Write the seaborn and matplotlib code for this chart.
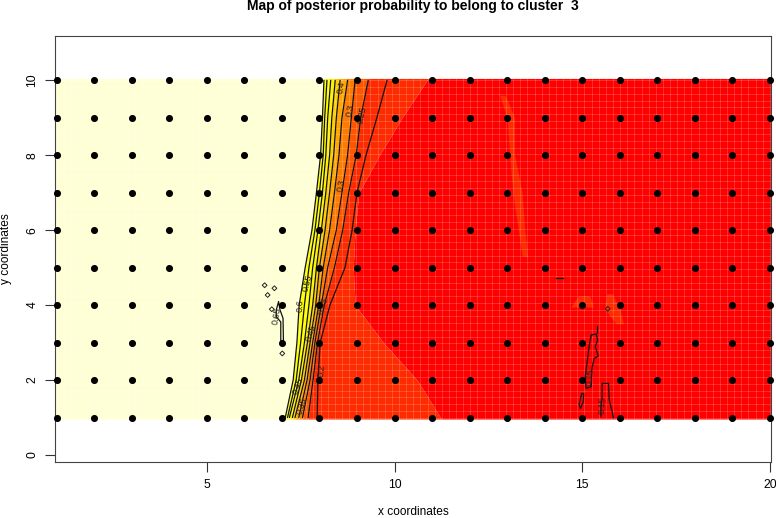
import matplotlib
matplotlib.use('Agg')
import matplotlib.pyplot as plt
import numpy as np
import pandas as pd
import seaborn as sns

sns.set_style('white')
plt.rcParams['font.family'] = ['Liberation Sans', 'DejaVu Sans']

x_sites = list(range(1, 21))
y_sites = list(range(1, 11))

# contour crossings, one x per y row (y = 1 ... 10)
levels = [0.6, 0.55, 0.5, 0.45, 0.4, 0.35, 0.3, 0.25, 0.2]
crossings = [
    [7.09, 7.30, 7.40, 7.46, 7.62, 7.80, 7.92, 8.03, 8.08, 8.12],
    [7.15, 7.38, 7.50, 7.60, 7.72, 7.88, 8.00, 8.10, 8.14, 8.20],
    [7.20, 7.45, 7.60, 7.72, 7.82, 7.96, 8.08, 8.17, 8.22, 8.30],
    [7.28, 7.52, 7.68, 7.82, 7.92, 8.05, 8.17, 8.27, 8.33, 8.42],
    [7.35, 7.60, 7.75, 7.90, 8.00, 8.15, 8.27, 8.38, 8.45, 8.55],
    [7.45, 7.67, 7.82, 7.98, 8.10, 8.27, 8.40, 8.52, 8.60, 8.75],
    [7.55, 7.75, 7.88, 8.05, 8.22, 8.45, 8.60, 8.75, 8.85, 8.95],
    [7.70, 7.83, 7.95, 8.13, 8.40, 8.62, 8.78, 8.98, 9.10, 9.30],
    [7.94, 7.96, 8.02, 8.28, 8.68, 8.87, 9.00, 9.24, 9.53, 9.80],
]
red_edge = [11.25, 10.60, 9.70, 8.95, 8.90, 8.95, 9.05, 9.60, 10.20, 10.90]

band_colors = ['#FFFF00', '#FFFF00', '#FFF000', '#FFCC00', '#FFA500', '#FF7A00', '#FF5500']
pale = '#FFFFD5'
red = '#FF0000'
mid_red = '#FF2B00'

# paler stripe and patches inside the red area
stripe_y = [9.6, 9.0, 8.0, 7.0, 6.0, 5.3]
stripe_left = [12.80, 13.00, 13.07, 13.15, 13.30, 13.40]
stripe_right = [12.95, 13.20, 13.20, 13.40, 13.47, 13.55]
patch_a_y = [3.95, 4.25]
patch_a_left = [14.7, 14.9]
patch_a_right = [15.3, 15.2]
patch_b_y = [3.5, 3.9, 4.3]
patch_b_left = [15.9, 15.6, 15.65]
patch_b_right = [16.1, 16.0, 15.8]

# small closed contours
contour_065_x = [6.91, 6.95, 7.03, 7.04, 6.97, 6.97, 6.85, 6.85, 6.91]
contour_065_y = [4.09, 3.87, 3.65, 3.07, 3.02, 3.55, 3.69, 3.87, 4.09]
contour_015a_x = [15.24, 15.37, 15.41, 15.35, 15.43, 15.32, 15.26, 15.24, 15.10, 15.08, 15.15, 15.19, 15.24]
contour_015a_y = [3.20, 3.23, 3.07, 2.89, 2.64, 2.58, 2.31, 1.82, 1.78, 2.09, 2.62, 2.93, 3.20]
contour_015b_x = [15.50, 15.50, 15.53, 15.53, 15.70, 15.72, 15.81, 15.83]
contour_015b_y = [1.02, 1.29, 1.55, 1.91, 1.91, 1.47, 1.11, 0.99]
contour_015c_x = [14.99, 15.04, 15.03, 14.95, 14.92, 14.99]
contour_015c_y = [1.64, 1.64, 1.42, 1.24, 1.36, 1.64]
contour_015d_x = [15.39, 15.39]
contour_015d_y = [3.26, 3.45]
contour_015e_x = [14.30, 14.50]
contour_015e_y = [4.73, 4.73]
blob_x = [6.54, 6.80, 6.62, 6.73, 7.01, 15.68]
blob_y = [4.53, 4.45, 4.27, 3.89, 2.71, 3.90]

label_text = ['0.4', '0.3', '0.25', '0.3', '0.55', '0.6', '0.65', '0.45', '0.35', '0.2', '0.45', '0.35', '0.15', '0.15']
label_x = [8.58, 8.82, 9.14, 8.58, 7.69, 7.48, 6.85, 7.77, 8.10, 8.07, 7.42, 7.54, 15.21, 15.53]
label_y = [9.80, 9.20, 9.07, 7.20, 4.60, 4.00, 3.72, 3.25, 3.97, 2.25, 1.85, 1.31, 2.07, 1.33]
label_rot = [80, 80, 78, 80, 75, 88, 80, 72, 72, 85, 72, 72, 85, 88]

fig = plt.figure(figsize=(7.76, 5.18), dpi=100)
ax = fig.add_axes([55 / 776, 1 - 462.3 / 518, 716 / 776, 426.6 / 518])

# filled probability bands
rows_fill = np.array(y_sites, dtype=float)
rows_fill[0] = 0.96
rows_fill[-1] = 10.05
ax.fill_betweenx(rows_fill, x_sites[0] - 0.05, crossings[0], color=pale, lw=0)
for k, col in enumerate(band_colors):
    ax.fill_betweenx(rows_fill, crossings[k], crossings[k + 1], color=col, lw=0)
ax.fill_betweenx(rows_fill, crossings[7], red_edge, color=mid_red, lw=0)
ax.fill_betweenx(rows_fill, red_edge, x_sites[-1] + 0.03, color=red, lw=0)
for yy, l, r in [(stripe_y, stripe_left, stripe_right),
                 (patch_a_y, patch_a_left, patch_a_right),
                 (patch_b_y, patch_b_left, patch_b_right)]:
    ax.fill_betweenx(yy, l, r, color=mid_red, lw=0)

# image cell seams
ax.vlines(np.arange(1, 20.03, 0.19), 0.96, 10.05, color='white', alpha=0.2, lw=0.6)
ax.hlines(np.arange(1, 10.05, 0.18), 0.95, 20.03, color='white', alpha=0.2, lw=0.6)

# contour lines
for k, lev in enumerate(levels):
    sns.lineplot(x=crossings[k], y=y_sites, sort=False, estimator=None,
                 color='#111111', lw=0.9, ax=ax)
for cx, cy in [(contour_065_x, contour_065_y), (contour_015a_x, contour_015a_y),
               (contour_015b_x, contour_015b_y), (contour_015c_x, contour_015c_y),
               (contour_015d_x, contour_015d_y), (contour_015e_x, contour_015e_y)]:
    sns.lineplot(x=cx, y=cy, sort=False, estimator=None, color='#111111', lw=0.9, ax=ax)
ax.scatter(blob_x, blob_y, s=6, marker='D', facecolors='none', edgecolors='#222222', lw=0.7, zorder=3)

for t, lx, ly, rot in zip(label_text, label_x, label_y, label_rot):
    ax.text(lx, ly, t, fontsize=6.5, rotation=rot, ha='center', va='center', color='#222222', zorder=4)

# sampling sites
sites = pd.DataFrame([(x, y) for x in x_sites for y in y_sites], columns=['x', 'y'])
sns.scatterplot(data=sites, x='x', y='y', color='black', s=26, linewidth=0, ax=ax, zorder=5, clip_on=False)

ax.set_xlim(0.955, 20.03)
ax.set_ylim(-0.195, 11.19)
ax.set_xticks([5, 10, 15, 20])
ax.set_yticks([0, 2, 4, 6, 8, 10])
ax.tick_params(axis='both', length=7, width=0.8, color='#333333', labelcolor='black', labelsize=8.7,
               bottom=True, left=True, pad=5)
for t in ax.get_yticklabels():
    t.set_rotation(90)
    t.set_va('center')
for s in ax.spines.values():
    s.set_color('#444444')
    s.set_linewidth(0.8)
ax.set_xlabel('')
ax.set_ylabel('')

fig.text(413 / 776, 1 - 6 / 518, 'Map of posterior probability to belong to cluster  3',
         fontsize=10, fontweight='bold', ha='center', va='center', color='black')
fig.text(413 / 776, 1 - 512 / 518, 'x coordinates', fontsize=8.6, ha='center', va='center', color='black')
fig.text(6 / 776, 1 - 249 / 518, 'y coordinates', fontsize=8.6, rotation=90, ha='center', va='center', color='black')

fig.savefig('out.png', dpi=100)
